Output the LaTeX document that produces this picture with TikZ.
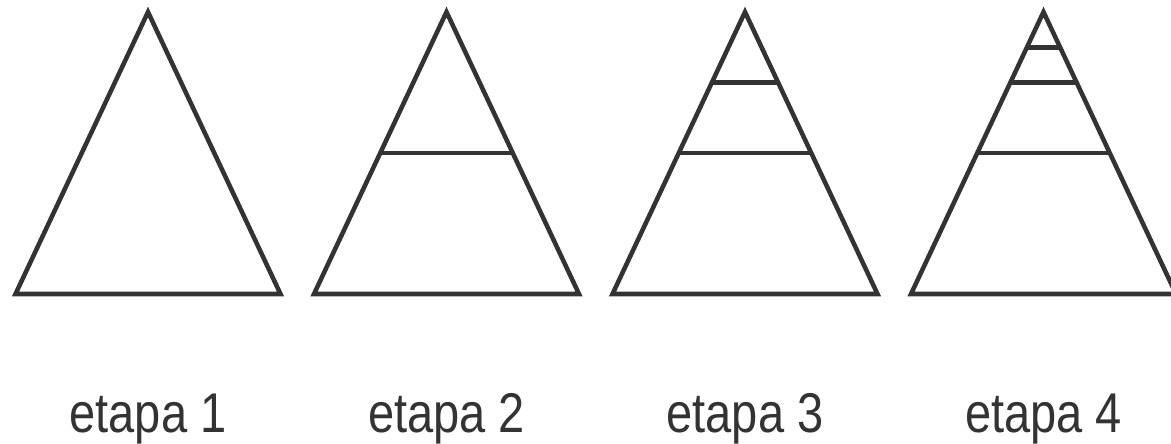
\documentclass[tikz,border=0pt]{standalone}
\usepackage{fontspec}
\usepackage{tikz}
\usetikzlibrary{calc}
\newfontfamily\narrowsans[FakeStretch=0.84]{Liberation Sans}
\definecolor{ink}{HTML}{333333}

\begin{document}
\begin{tikzpicture}[
  x=0.75pt, y=-0.75pt,
  edge line/.style={line width=3.4pt, draw=ink},
  stage label/.style={font=\narrowsans\fontsize{42}{50}\selectfont, text=ink, anchor=base, inner sep=0pt}
]
  \clip (0,0) rectangle (1171,443);

  % One triangle per stage, cut in halves towards the apex
  \foreach \k/\cx in {1/148, 2/446.5, 3/745, 4/1043.5} {
    \coordinate (apex\k) at (\cx,12);
    \coordinate (left\k) at (\cx-132.5,294);
    \coordinate (right\k) at (\cx+132.5,294);
    \draw[edge line] (apex\k) -- (left\k) -- (right\k) -- cycle;
    \node[stage label] (label\k) at (\cx,432) {etapa \k};
  }

  % Division lines: 1/2, 1/4 and 1/8 of the height
  \foreach \k/\f in {2/0.5, 3/0.5, 3/0.25, 4/0.5, 4/0.25, 4/0.125}
    \draw[edge line] ($(apex\k)!\f!(left\k)$) -- ($(apex\k)!\f!(right\k)$);
\end{tikzpicture}
\end{document}
